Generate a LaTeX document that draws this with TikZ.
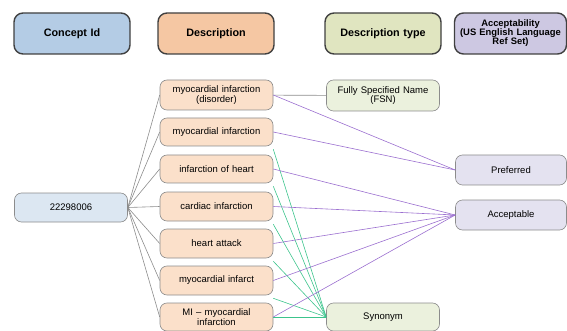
\documentclass[tikz,border=0pt]{standalone}
\usepackage{fontspec}
\setmainfont{Liberation Sans}
\definecolor{hdrblue}{HTML}{B4CCE5}
\definecolor{hdrorange}{HTML}{F5C7A3}
\definecolor{hdrgreen}{HTML}{E0E5C0}
\definecolor{hdrpurple}{HTML}{CDC8E2}
\definecolor{bblue}{HTML}{DCE7F2}
\definecolor{borange}{HTML}{FBE0CA}
\definecolor{bgreen}{HTML}{EBF1DD}
\definecolor{bpurple}{HTML}{E4E2F0}
\definecolor{lnpurple}{HTML}{9B6FD0}
\definecolor{lngreen}{HTML}{3CC48C}
\begin{document}
\begin{tikzpicture}[x=1pt,y=-1pt,
  hdr/.style={draw=black!75,line width=1.4pt,rounded corners=9pt,minimum height=41pt,
    text width=#1,align=center,inner sep=1pt,font=\bfseries\fontsize{10.8}{11}\selectfont},
  hdr/.default=110pt,
  box/.style={draw=black!45,line width=0.6pt,rounded corners=7pt,
    text width=110pt,align=center,inner sep=1.5pt,font=\fontsize{9.5}{9.7}\selectfont},
  gline/.style={draw=black!45,line width=0.6pt},
  pline/.style={draw=lnpurple,line width=0.6pt},
  sline/.style={draw=lngreen,line width=0.6pt}]
\useasboundingbox (0,0) rectangle (567,331);
% headers
\node[hdr,fill=hdrblue,minimum width=116pt] (hc) at (72,33.5) {Concept Id};
\node[hdr,fill=hdrorange,minimum width=116pt] (hd) at (216,33.5) {Description};
\node[hdr,fill=hdrgreen,minimum width=116pt] (ht) at (383,33.5) {Description type};
\node[hdr=110pt,fill=hdrpurple,minimum width=111pt,font=\bfseries\fontsize{9.4}{9}\selectfont] (ha) at (510.5,33.5) {Acceptability\\(US English Language\\Ref Set)};
% concept
\node[box,fill=bblue,minimum height=29pt] (c) at (71,207.5) {22298006};
% descriptions
\node[box,fill=borange,minimum height=30pt] (d1) at (216.5,95) {myocardial infarction\\(disorder)};
\node[box,fill=borange,minimum height=28pt] (d2) at (216.5,132) {myocardial infarction};
\node[box,fill=borange,minimum height=28pt] (d3) at (216.5,169) {infarction of heart};
\node[box,fill=borange,minimum height=29pt] (d4) at (216.5,206.5) {cardiac infarction};
\node[box,fill=borange,minimum height=29pt] (d5) at (216.5,243.5) {heart attack};
\node[box,fill=borange,minimum height=29pt] (d6) at (216.5,280.5) {myocardial infarct};
\node[box,fill=borange,minimum height=28pt] (d7) at (216.5,317) {MI -- myocardial\\infarction};
% types
\node[box,fill=bgreen,minimum height=31pt] (fsn) at (383,95.5) {Fully Specified Name\\(FSN)};
\node[box,fill=bgreen,minimum height=28pt] (syn) at (383,317) {Synonym};
% acceptability
\node[box,fill=bpurple,minimum height=30pt,text width=108pt] (pref) at (511,170) {Preferred};
\node[box,fill=bpurple,minimum height=30pt,text width=108pt] (acc) at (511,215) {Acceptable};
% connectors
\foreach \d in {d1,d2,d3,d4,d5,d6,d7} \draw[gline] (c.east) -- (\d.west);
\draw[gline] (d1) -- (fsn);
\foreach \d in {d2,d3,d4,d5,d6} \draw[sline] ([yshift=-3pt]\d.south east) -- (syn.west);
\draw[sline] (d7) -- (syn);
\foreach \d in {d1,d2} \draw[pline] (\d.east) -- (pref.west);
\foreach \d in {d3,d4,d5,d6,d7} \draw[pline] (\d.east) -- (acc.west);
\end{tikzpicture}
\end{document}
